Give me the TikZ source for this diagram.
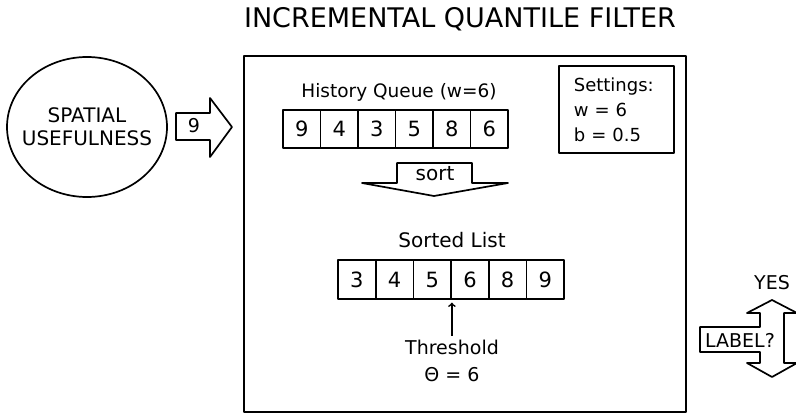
\documentclass[tikz,border=0pt]{standalone}
\usepackage{fontspec}
\setmainfont{DejaVu Sans}
\usetikzlibrary{shapes.geometric}

\begin{document}
\begin{tikzpicture}[x=1pt,y=-1pt,line width=1.7pt,line join=round,
  cell/.style={draw,minimum width=37.6pt,minimum height=38.5pt,inner sep=0pt,font=\fontsize{21}{24}\selectfont},
  lbl/.style={font=\fontsize{19}{22}\selectfont}]
\useasboundingbox (0,0) rectangle (796,415);
% title and frame
\node[font=\fontsize{27}{30}\selectfont] (title) at (460,19) {INCREMENTAL QUANTILE FILTER};
\draw (244,56) rectangle (686,412);
% input
\node[draw,ellipse,minimum width=160pt,minimum height=140pt,inner sep=-20pt,align=center,
  font=\fontsize{20}{23}\selectfont] (src) at (87,127) {SPATIAL\\USEFULNESS};
\draw (176,113) -- (210,113) -- (210,98) -- (232,127) -- (210,157) -- (210,140) -- (176,140) -- cycle;
\node[lbl] (val) at (194,126) {9};
% history queue
\node[font=\fontsize{18.5}{22}\selectfont] (hist) at (399,92) {History Queue (w=6)};
\foreach \v [count=\i] in {9,4,3,5,8,6}
  \node[cell] (h\i) at ({283+37.5*(\i-0.5)},129) {\v};
% sort arrow
\draw (397,163) -- (472,163) -- (472,183) -- (508,183) -- (434,196) -- (362,183) -- (397,183) -- cycle;
\node[font=\fontsize{20}{22}\selectfont] (sort) at (435,174) {sort};
% settings
\node[draw,anchor=north west,text width=85pt,inner xsep=15pt,minimum height=87pt,align=left,
  font=\fontsize{18}{25}\selectfont] (set) at (558,65) {Settings:\\w = 6\\b = 0.5};
% sorted list
\node[font=\fontsize{20}{22}\selectfont] (sl) at (452,240) {Sorted List};
\foreach \v [count=\i] in {3,4,5,6,8,9}
  \node[cell] (s\i) at ({338+37.7*(\i-0.5)},279.5) {\v};
% threshold
\node[align=center,font=\fontsize{19}{27}\selectfont] (thr) at (452,361) {Threshold\\Θ = 6};
\draw[->] (thr) -- ([yshift=-3pt]s3.south east);
% decision
\draw (772,300) -- (797,313) -- (784,313) -- (784,363) -- (797,363) -- (772,377) -- (747,363) -- (760,363)
  -- (760,352) -- (700,352) -- (700,327) -- (760,327) -- (760,313) -- (747,313) -- cycle;
\node[font=\fontsize{19}{22}\selectfont] (lab) at (740,340) {LABEL?};
\node[lbl] (yes) at (772,283) {YES};
\end{tikzpicture}
\end{document}
